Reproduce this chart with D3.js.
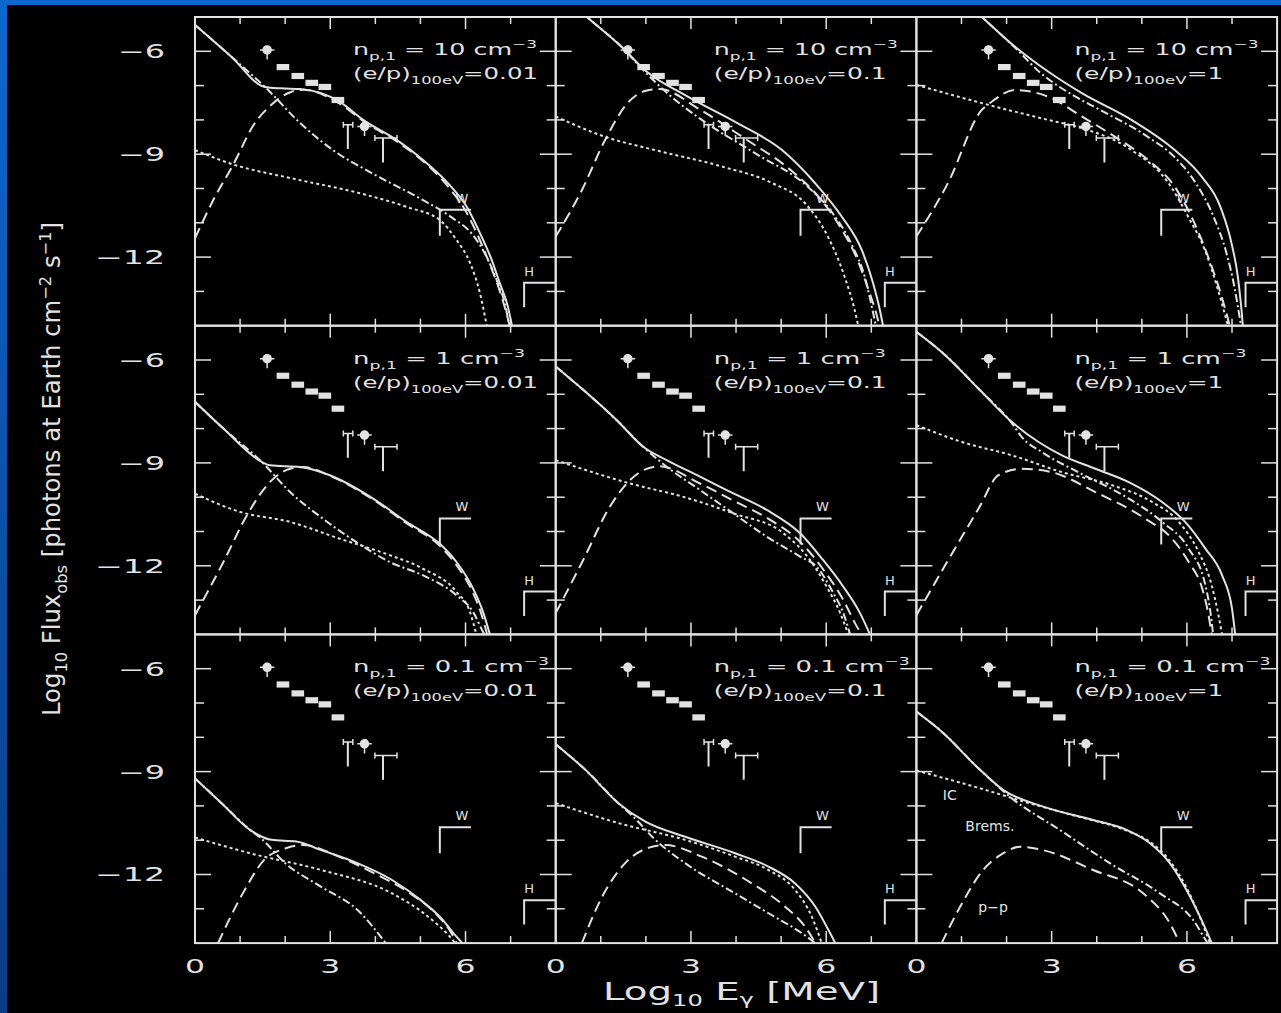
<!DOCTYPE html>
<html>
<head>
<meta charset="utf-8">
<script src="https://cdn.jsdelivr.net/npm/d3@7"></script>
<style>
  html, body { margin: 0; padding: 0; background: #000; }
  svg { display: block; }
  text { font-family: "DejaVu Sans", sans-serif; fill: #e2e2e2; }
</style>
</head>
<body>
<svg id="chart" width="1281" height="1013"></svg>
<script>
// Curves per panel: [log10 E (MeV), log10 flux], panels ordered row by row
var totalFlux = [
  [[0,-5.23],[0.8,-6.15],[1.55,-7.04],[1.9,-7.08],[2.33,-7.1],[3.22,-7.48],[3.73,-8.0],[4.48,-8.59],[5.06,-9.17],[5.65,-9.9],[6.03,-10.54],[6.32,-11.3],[6.58,-12.08],[6.76,-12.76],[6.94,-13.45],[7.03,-14]],
  [[0,-4.22],[0.69,-5.0],[1.46,-5.87],[1.98,-6.55],[2.93,-7.32],[4.04,-8.1],[5.02,-8.88],[5.75,-9.84],[6.35,-10.83],[6.79,-11.8],[7.04,-12.76],[7.19,-13.54],[7.26,-14]],
  [[0,-3.3],[1.45,-5.0],[2.19,-5.87],[2.92,-6.59],[3.67,-7.22],[4.77,-8.0],[5.73,-8.88],[6.33,-9.66],[6.77,-10.63],[6.99,-11.6],[7.13,-12.58],[7.21,-13.54],[7.24,-14]],
  [[0,-7.22],[0.63,-8.0],[1.48,-8.97],[1.66,-9.07],[2.33,-9.12],[2.99,-9.36],[3.95,-10.04],[4.69,-10.72],[5.43,-11.36],[5.8,-11.89],[6.17,-12.67],[6.39,-13.35],[6.54,-14]],
  [[0,-6.19],[0.61,-6.87],[1.35,-7.75],[1.94,-8.53],[2.46,-8.92],[3.2,-9.4],[3.94,-9.89],[4.68,-10.37],[5.42,-11.05],[5.93,-11.83],[6.38,-12.61],[6.75,-13.38],[6.97,-14]],
  [[0,-5.18],[0.64,-5.86],[1.38,-6.84],[2.12,-7.81],[2.71,-8.39],[3.23,-8.78],[3.97,-9.17],[4.71,-9.56],[5.45,-10.14],[5.96,-10.72],[6.41,-11.5],[6.78,-12.28],[7.0,-13.25],[7.07,-14]],
  [[0,-9.2],[0.59,-9.92],[1.22,-10.7],[1.7,-10.99],[2.25,-11.04],[2.8,-11.29],[3.6,-11.67],[4.37,-12.16],[5.0,-12.74],[5.5,-13.33],[5.73,-13.71],[5.93,-14]],
  [[0,-8.2],[0.66,-8.95],[1.39,-9.92],[1.99,-10.46],[2.87,-10.9],[3.98,-11.38],[4.72,-11.77],[5.31,-12.26],[5.76,-12.94],[6.05,-13.62],[6.2,-14]],
  [[0,-7.25],[0.6,-7.88],[1.34,-8.86],[1.93,-9.54],[2.81,-10.02],[3.92,-10.41],[4.66,-10.7],[5.18,-11.09],[5.62,-11.67],[5.99,-12.45],[6.29,-13.23],[6.55,-14]]
];

var bremsFlux = [
  [[0,-5.23],[0.8,-6.15],[1.6,-7.1],[2.33,-8.09],[3.06,-8.88],[3.92,-9.55],[5.06,-10.34],[5.7,-10.85],[6.16,-11.35],[6.45,-11.95],[6.7,-12.7],[6.88,-13.4],[6.97,-14]],
  [[0,-4.22],[0.69,-5.0],[1.46,-5.87],[1.98,-6.6],[2.5,-7.25],[3.24,-8.0],[4.42,-8.97],[5.6,-9.96],[6.13,-10.7],[6.57,-11.65],[6.86,-12.6],[7.02,-13.5],[7.1,-14]],
  [[0,-3.3],[1.45,-5.0],[2.19,-5.9],[2.77,-6.65],[3.5,-7.3],[4.03,-7.68],[5.14,-8.5],[5.7,-9.05],[6.2,-9.85],[6.6,-10.85],[6.88,-11.9],[7.05,-12.85],[7.15,-13.6],[7.2,-14]],
  [[0,-7.22],[0.63,-8.0],[1.48,-8.97],[2.11,-9.85],[2.84,-10.63],[3.58,-11.31],[4.32,-11.89],[5.06,-12.28],[5.8,-12.86],[6.17,-13.35],[6.39,-13.93],[6.42,-14]],
  [[0,-6.19],[0.61,-6.87],[1.35,-7.75],[1.94,-8.53],[2.46,-9.11],[3.2,-9.79],[3.94,-10.47],[4.68,-11.15],[5.42,-11.73],[5.79,-12.03],[6.16,-12.8],[6.38,-13.38],[6.53,-14]],
  [[0,-5.18],[0.64,-5.86],[1.38,-6.84],[2.12,-7.85],[2.34,-8.25],[2.8,-8.7],[3.59,-9.27],[4.71,-10.04],[5.45,-10.72],[6.04,-11.5],[6.41,-12.57],[6.55,-13.64],[6.58,-14]],
  [[0,-9.2],[0.59,-9.92],[1.22,-10.7],[1.46,-10.94],[2.0,-11.67],[2.8,-12.36],[3.6,-13.03],[4.23,-14]],
  [[0,-8.2],[0.66,-8.95],[1.39,-9.92],[1.8,-10.42],[2.14,-10.9],[2.87,-11.67],[3.98,-12.55],[4.72,-13.13],[5.46,-13.71],[5.76,-14]],
  [[0,-7.25],[0.6,-7.88],[1.34,-8.86],[1.7,-9.3],[2.07,-9.73],[3.18,-10.7],[4.29,-11.67],[5.4,-12.55],[6.14,-13.33],[6.44,-13.96],[6.46,-14]]
];

var icFlux = [
  [[0,-8.88],[0.8,-9.28],[2.2,-9.72],[3.6,-10.12],[4.7,-10.54],[5.43,-10.92],[5.8,-11.5],[6.1,-12.17],[6.32,-13.05],[6.47,-14]],
  [[0,-7.9],[1.09,-8.49],[2.2,-8.88],[3.69,-9.36],[4.8,-9.84],[5.53,-10.43],[6.04,-11.41],[6.41,-12.58],[6.63,-13.54],[6.71,-14]],
  [[0,-6.98],[1.45,-7.51],[2.92,-8.0],[3.67,-8.24],[4.77,-8.88],[5.59,-9.84],[6.03,-10.83],[6.4,-11.8],[6.69,-12.96],[6.91,-14]],
  [[0,-9.9],[1.0,-10.43],[2.1,-10.72],[3.21,-11.21],[4.32,-11.69],[5.05,-12.08],[5.8,-12.76],[6.1,-13.35],[6.24,-14]],
  [[0,-8.92],[1.65,-9.6],[2.83,-9.99],[3.94,-10.47],[5.05,-11.05],[5.64,-11.83],[6.01,-12.61],[6.31,-13.38],[6.49,-14]],
  [[0,-7.9],[1.01,-8.39],[2.12,-8.78],[3.23,-9.27],[4.34,-9.65],[5.23,-10.14],[5.82,-10.72],[6.26,-11.6],[6.55,-12.57],[6.7,-13.44],[6.78,-14]],
  [[0,-10.92],[1.22,-11.38],[2.8,-11.87],[4.37,-12.55],[5.17,-13.23],[5.65,-13.81],[5.77,-14]],
  [[0,-9.92],[1.39,-10.5],[2.87,-10.99],[3.98,-11.48],[4.72,-11.87],[5.31,-12.45],[5.68,-13.23],[5.9,-14]],
  [[0,-8.97],[1.34,-9.46],[2.45,-9.9],[3.55,-10.3],[4.66,-10.72],[5.18,-11.05],[5.62,-11.6],[5.99,-12.38],[6.29,-13.25],[6.51,-14]]
];

var ppFlux = [
  [[0,-11.45],[0.4,-10.35],[0.85,-9.3],[1.3,-8.15],[1.7,-7.55],[2.1,-7.2],[2.4,-7.12],[3.2,-7.52],[3.75,-8.05],[4.5,-8.65],[5.1,-9.25],[5.65,-10.0],[6.0,-10.65],[6.3,-11.45],[6.55,-12.25],[6.75,-12.95],[6.9,-13.6],[6.98,-14]],
  [[0,-11.4],[0.58,-10.05],[1.09,-8.6],[1.6,-7.5],[2.0,-7.15],[2.3,-7.1],[3.2,-7.7],[4.2,-8.55],[5.2,-9.45],[5.8,-10.2],[6.3,-11.1],[6.7,-12.1],[6.95,-13.0],[7.1,-13.6],[7.18,-14]],
  [[0,-11.4],[0.7,-9.84],[1.45,-7.71],[1.67,-7.47],[2.19,-7.13],[2.92,-7.32],[3.67,-7.9],[4.4,-8.49],[5.14,-9.17],[5.73,-9.95],[6.1,-10.82],[6.47,-11.99],[6.77,-13.15],[6.95,-14]],
  [[0,-13.44],[0.63,-11.89],[1.15,-10.53],[1.66,-9.56],[2.11,-9.17],[2.4,-9.12],[3.0,-9.38],[3.95,-10.07],[4.69,-10.76],[5.43,-11.42],[5.8,-11.98],[6.17,-12.8],[6.35,-13.4],[6.48,-14]],
  [[0,-13.38],[0.61,-11.83],[1.2,-10.28],[1.65,-9.5],[2.0,-9.18],[2.3,-9.1],[3.2,-9.6],[3.94,-10.1],[4.68,-10.6],[5.42,-11.3],[5.93,-12.1],[6.38,-13.0],[6.65,-13.7],[6.78,-14]],
  [[0,-13.44],[0.64,-11.98],[1.38,-10.33],[1.82,-9.36],[2.34,-9.17],[3.0,-9.27],[3.97,-9.85],[5.08,-10.63],[5.67,-11.21],[6.04,-11.89],[6.34,-12.67],[6.48,-13.44],[6.55,-14]],
  [[0.51,-14],[1.06,-12.55],[1.53,-11.58],[2.0,-11.24],[2.4,-11.14],[3.19,-11.48],[3.98,-11.97],[4.77,-12.55],[5.33,-13.13],[5.73,-13.81],[5.8,-14]],
  [[0.58,-14],[1.03,-12.65],[1.54,-11.67],[2.14,-11.19],[2.43,-11.14],[3.24,-11.48],[4.35,-12.26],[5.09,-12.94],[5.53,-13.52],[5.76,-14]],
  [[0.56,-14],[0.97,-12.94],[1.48,-11.87],[1.93,-11.38],[2.3,-11.19],[2.81,-11.29],[3.92,-11.87],[5.03,-12.55],[5.62,-13.42],[5.84,-14]]
];

// panel parameters
var densities = ["10", "1", "0.1"];      // rows
var ratios = ["0.01", "0.1", "1"];       // columns

// observed points (same in every panel)
var lowCircle = [1.60, -5.96];
var lowBoxes = [[1.95,-6.46],[2.28,-6.72],[2.59,-6.92],[2.88,-7.04],[3.17,-7.42]];
var highCircle = [3.76, -8.19];
var upperLimits = [
  {x: 3.39, x1: 3.29, x2: 3.50, top: -8.14, bottom: -8.85},
  {x: 4.17, x1: 3.99, x2: 4.48, top: -8.53, bottom: -9.24}
];
var brackets = [
  {label: "W", x: 5.43, right: 6.12, top: -10.62, bottom: -11.38},
  {label: "H", x: 7.30, right: 8.00, top: -12.75, bottom: -13.46}
];
var componentLabels = [
  {text: "IC", x: 0.74, y: -9.68},
  {text: "Brems.", x: 1.63, y: -10.6},
  {text: "p\u2212p", x: 1.7, y: -12.94}
];

var xTickValues = [1, 2, 3, 4, 5, 6, 7],
    yTickValues = [-13, -12, -11, -10, -9, -8, -7, -6],
    xLabelValues = [0, 3, 6],
    yLabelValues = [-6, -9, -12];

var W = 1281, H = 1013;
var margin = {left: 195, top: 17};
var panelW = 360.7, panelH = 308.7;
var ink = "#e2e2e2";

var svg = d3.select("#chart");
var defs = svg.append("defs");
var grad = defs.append("linearGradient").attr("id", "slide")
  .attr("x1", 0).attr("y1", 0).attr("x2", 0).attr("y2", 1);
grad.append("stop").attr("offset", "0%").attr("stop-color", "#0e67cd");
grad.append("stop").attr("offset", "100%").attr("stop-color", "#0a3b86");
defs.append("clipPath").attr("id", "plotclip")
  .append("rect").attr("width", panelW).attr("height", panelH);

svg.append("rect").attr("width", W).attr("height", H).attr("fill", "url(#slide)");
svg.append("rect").attr("x", 7).attr("y", 5).attr("width", W - 7).attr("height", H - 5).attr("fill", "#000");

var x = d3.scaleLinear().domain([0, 8]).range([0, panelW]);
var y = d3.scaleLinear().domain([-14, -5]).range([panelH, 0]);

var line = d3.line()
  .x(function(d){ return x(d[0]); })
  .y(function(d){ return y(d[1]); })
  .curve(d3.curveMonotoneX);

var series = [
  {data: icFlux, dash: "3,3"},
  {data: bremsFlux, dash: "8,3,2,3"},
  {data: ppFlux, dash: "11,6"},
  {data: totalFlux, dash: null}
];

d3.range(9).forEach(function(i){
  var r = Math.floor(i / 3), c = i % 3;
  var g = svg.append("g")
    .attr("transform", "translate(" + (margin.left + c * panelW) + "," + (margin.top + r * panelH) + ")");
  var plot = g.append("g").attr("clip-path", "url(#plotclip)");

  // model curves
  series.forEach(function(s){
    plot.append("path")
      .attr("d", line(s.data[i]))
      .attr("fill", "none")
      .attr("stroke", ink)
      .attr("stroke-width", 2)
      .attr("stroke-dasharray", s.dash);
  });

  // observed points
  var marks = plot.append("g").attr("stroke", ink).attr("fill", ink).attr("stroke-width", 1.5);
  [lowCircle, highCircle].forEach(function(p){
    marks.append("circle").attr("cx", x(p[0])).attr("cy", y(p[1])).attr("r", 4);
    marks.append("line").attr("x1", x(p[0] - 0.16)).attr("x2", x(p[0] + 0.16))
      .attr("y1", y(p[1])).attr("y2", y(p[1]));
    marks.append("line").attr("x1", x(p[0])).attr("x2", x(p[0]))
      .attr("y1", y(p[1] + 0.13)).attr("y2", y(p[1] - 0.28));
  });
  lowBoxes.forEach(function(p){
    marks.append("rect")
      .attr("x", x(p[0] - 0.14)).attr("width", x(0.28) - x(0))
      .attr("y", y(p[1] + 0.09)).attr("height", y(-14) - y(-13.82))
      .attr("stroke", "none");
  });

  // upper limits
  upperLimits.forEach(function(u){
    marks.append("line").attr("x1", x(u.x1)).attr("x2", x(u.x2)).attr("y1", y(u.top)).attr("y2", y(u.top));
    marks.append("line").attr("x1", x(u.x1)).attr("x2", x(u.x1)).attr("y1", y(u.top) - 3).attr("y2", y(u.top) + 3);
    marks.append("line").attr("x1", x(u.x2)).attr("x2", x(u.x2)).attr("y1", y(u.top) - 3).attr("y2", y(u.top) + 3);
    marks.append("line").attr("x1", x(u.x)).attr("x2", x(u.x)).attr("y1", y(u.top)).attr("y2", y(u.bottom)).attr("stroke-width", 2);
  });

  // W and H limits
  brackets.forEach(function(b){
    plot.append("path")
      .attr("d", "M" + x(b.x) + "," + y(b.bottom) + "V" + y(b.top) + "H" + x(b.right))
      .attr("fill", "none").attr("stroke", ink).attr("stroke-width", 2);
    plot.append("text")
      .attr("x", x(b.x) + (b.label === "W" ? 22 : 5)).attr("y", y(b.top) - 7)
      .style("font-size", "13px").attr("text-anchor", "middle")
      .text(b.label);
  });

  if (i === 8) {
    componentLabels.forEach(function(l){
      plot.append("text").attr("x", x(l.x)).attr("y", y(l.y) + 5)
        .attr("text-anchor", "middle").style("font-size", "14px")
        .text(l.text);
    });
  }

  // frame
  g.append("rect").attr("width", panelW).attr("height", panelH)
    .attr("fill", "none").attr("stroke", ink).attr("stroke-width", 2);

  // ticks on all four sides
  var ticks = g.append("g").attr("stroke", ink).attr("stroke-width", 1.5);
  xTickValues.forEach(function(v){
    var len = v % 3 === 0 ? 12 : 7;
    ticks.append("line").attr("x1", x(v)).attr("x2", x(v)).attr("y1", panelH).attr("y2", panelH - len);
    ticks.append("line").attr("x1", x(v)).attr("x2", x(v)).attr("y1", 0).attr("y2", len);
  });
  yTickValues.forEach(function(v){
    var len = v % 3 === 0 ? 16 : 9;
    ticks.append("line").attr("y1", y(v)).attr("y2", y(v)).attr("x1", 0).attr("x2", len);
    ticks.append("line").attr("y1", y(v)).attr("y2", y(v)).attr("x1", panelW).attr("x2", panelW - len);
  });

  // parameter labels
  var t1 = g.append("text").attr("x", 158).attr("y", 38)
    .attr("textLength", 160 + 12 * densities[r].length).attr("lengthAdjust", "spacingAndGlyphs")
    .style("font-size", "15px");
  t1.append("tspan").text("n");
  t1.append("tspan").attr("dy", 5).style("font-size", "10px").text("p,1");
  t1.append("tspan").attr("dy", -5).text(" = " + densities[r] + " cm");
  t1.append("tspan").attr("dy", -7).style("font-size", "10px").text("\u22123");

  var t2 = g.append("text").attr("x", 158).attr("y", 62)
    .attr("textLength", 137 + 12 * ratios[c].length).attr("lengthAdjust", "spacingAndGlyphs")
    .style("font-size", "15px");
  t2.append("tspan").text("(e/p)");
  t2.append("tspan").attr("dy", 5).style("font-size", "10px").text("100eV");
  t2.append("tspan").attr("dy", -5).text("=" + ratios[c]);

  // tick labels
  if (c === 0) {
    yLabelValues.forEach(function(v){
      var w = 24 + 23 * String(Math.abs(v)).length;
      g.append("text").attr("x", -30 - w).attr("y", y(v) + 7)
        .attr("textLength", w).attr("lengthAdjust", "spacingAndGlyphs")
        .style("font-size", "19px").text("\u2212" + Math.abs(v));
    });
  }
  if (r === 2) {
    xLabelValues.forEach(function(v){
      g.append("text").attr("x", x(v) - 10).attr("y", panelH + 30)
        .attr("textLength", 20).attr("lengthAdjust", "spacingAndGlyphs")
        .style("font-size", "20px").text(v);
    });
  }
});

// axis titles
var xt = svg.append("text").attr("x", 603).attr("y", 1000)
  .attr("textLength", 277).attr("lengthAdjust", "spacingAndGlyphs")
  .style("font-size", "24px");
xt.append("tspan").text("Log");
xt.append("tspan").attr("dy", 6).style("font-size", "15px").text("10");
xt.append("tspan").attr("dy", -6).text(" E");
xt.append("tspan").attr("dy", 5).style("font-size", "15px").text("\u03b3");
xt.append("tspan").attr("dy", -5).text(" [MeV]");

var yt = svg.append("text").attr("transform", "translate(60,716) rotate(-90)")
  .attr("textLength", 494).attr("lengthAdjust", "spacingAndGlyphs")
  .style("font-size", "24px");
yt.append("tspan").text("Log");
yt.append("tspan").attr("dy", 7).style("font-size", "16px").text("10");
yt.append("tspan").attr("dy", -7).text(" Flux");
yt.append("tspan").attr("dy", 7).style("font-size", "16px").text("obs");
yt.append("tspan").attr("dy", -7).text(" [photons at Earth cm");
yt.append("tspan").attr("dy", -9).style("font-size", "16px").text("\u22122");
yt.append("tspan").attr("dy", 9).text(" s");
yt.append("tspan").attr("dy", -9).style("font-size", "16px").text("\u22121");
yt.append("tspan").attr("dy", 9).text("]");
</script>
</body>
</html>
